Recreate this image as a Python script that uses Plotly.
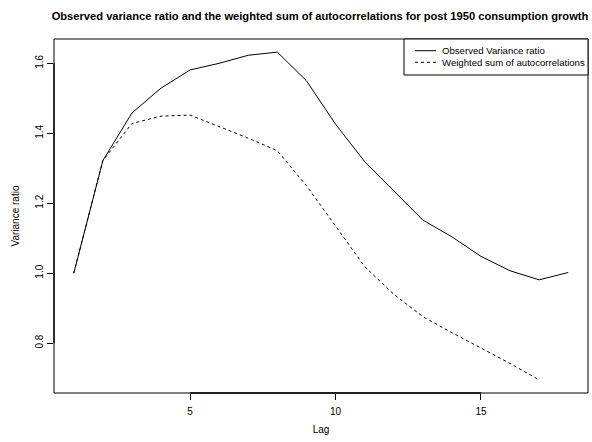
import plotly.graph_objects as go

# Lags and the two variance-ratio series
lags = list(range(1, 19))
observed_vr = [1.000, 1.322, 1.458, 1.529, 1.581, 1.600, 1.623, 1.632, 1.550,
               1.426, 1.319, 1.236, 1.152, 1.104, 1.048, 1.007, 0.981, 1.002]
weighted_lags = list(range(1, 18))
weighted_acf = [1.000, 1.322, 1.428, 1.449, 1.452, 1.420, 1.386, 1.350, 1.250,
                1.135, 1.019, 0.940, 0.876, 0.830, 0.787, 0.742, 0.695]

series_names = ["Observed Variance ratio", "Weighted sum of autocorrelations"]
series_dash = ["solid", "3px,3px"]

x_ticks = [5, 10, 15]
y_ticks = [0.8, 1.0, 1.2, 1.4, 1.6]

FONT = "Liberation Sans, Arial, Helvetica, sans-serif"
W, H = 592, 442
ML, MR, MT, MB = 54, 4, 39, 49
PW, PH = W - ML - MR, H - MT - MB


def padded(lo, hi, frac=0.04):
    d = hi - lo
    return [lo - frac * d, hi + frac * d]


def px_x(px):
    return (px - ML) / PW


def px_y(py):
    return 1 - (py - MT) / PH


all_x = lags + weighted_lags
all_y = observed_vr + weighted_acf
x_range = padded(min(all_x), max(all_x))
y_range = padded(min(all_y), max(all_y))

fig = go.Figure()
for xs, ys, name, dash in zip([lags, weighted_lags], [observed_vr, weighted_acf],
                              series_names, series_dash):
    fig.add_trace(go.Scatter(
        x=xs, y=ys, mode="lines", name=name, showlegend=False,
        line=dict(color="black", width=1, dash=dash),
    ))

# box around the plotting region
fig.add_shape(type="rect", xref="paper", yref="paper", x0=0, x1=1, y0=0, y1=1,
              line=dict(color="black", width=1), layer="above")
# axis lines spanning first to last tick
fig.add_shape(type="line", xref="x", yref="paper", x0=x_ticks[0], x1=x_ticks[-1],
              y0=0, y1=0, line=dict(color="black", width=1.3), layer="above")
fig.add_shape(type="line", xref="paper", yref="y", x0=0, x1=0,
              y0=y_ticks[0], y1=y_ticks[-1], line=dict(color="black", width=1.3),
              layer="above")

# legend box in the top-right corner
fig.add_shape(type="rect", xref="paper", yref="paper",
              x0=px_x(404), x1=1, y0=px_y(75), y1=1,
              line=dict(color="black", width=1), fillcolor="white", layer="above")
for i, (name, dash) in enumerate(zip(series_names, series_dash)):
    row_y = px_y(50.7 + 11.6 * i)
    fig.add_shape(type="line", xref="paper", yref="paper",
                  x0=px_x(415), x1=px_x(436), y0=row_y, y1=row_y,
                  line=dict(color="black", width=1, dash=dash), layer="above")
    fig.add_annotation(xref="paper", yref="paper", x=px_x(439.5), y=row_y,
                       xanchor="left", yanchor="middle", showarrow=False,
                       text=name, font=dict(family=FONT, size=9.6, color="black"))

fig.update_layout(
    width=W, height=H,
    margin=dict(l=ML, r=MR, t=MT, b=MB),
    paper_bgcolor="white", plot_bgcolor="white",
    font=dict(family=FONT, size=10, color="black"),
    title=dict(
        text="<b>Observed variance ratio and the weighted sum of autocorrelations for post 1950 consumption growth</b>",
        x=320 / W, xanchor="center", y=1 - 16 / H, yanchor="middle",
        font=dict(family=FONT, size=11.15, color="black"),
    ),
    showlegend=False,
    xaxis=dict(
        range=x_range, tickvals=x_ticks, ticktext=[str(v) for v in x_ticks],
        ticks="outside", ticklen=6, tickcolor="black", ticklabelstandoff=3,
        showgrid=False, zeroline=False, showline=False,
        title=dict(text="Lag", font=dict(size=10), standoff=9),
    ),
    yaxis=dict(
        range=y_range, tickvals=y_ticks, ticktext=[f"{v:.1f}" for v in y_ticks],
        ticks="outside", ticklen=6, tickcolor="black", tickangle=-90,
        showgrid=False, zeroline=False, showline=False,
        title=dict(text="Variance ratio", font=dict(size=10), standoff=12),
    ),
)

fig.write_html("out.html")
